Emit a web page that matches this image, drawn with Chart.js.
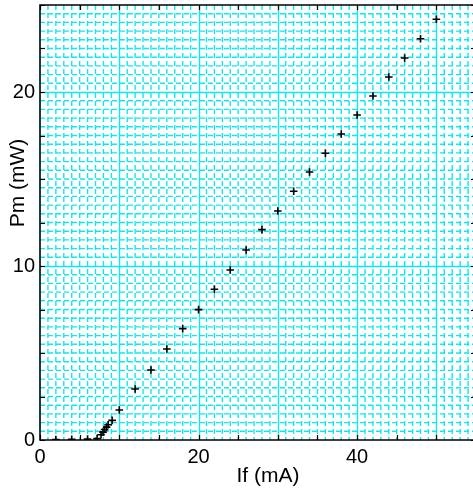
<!DOCTYPE html>
<html>
<head>
<meta charset="utf-8">
<script src="https://cdn.jsdelivr.net/npm/chart.js@4"></script>
<style>
  html, body { margin: 0; padding: 0; background: #fff; overflow: hidden; }
  #wrap { width: 476px; height: 492px; }
</style>
</head>
<body>
<div id="wrap"><canvas id="plot" width="476" height="492"></canvas></div>
<script>
// Pm vs If — measured points
const ifValues = [2, 4, 6, 7.2, 7.7, 7.95, 8.15, 8.4, 8.6, 9.1, 10, 12, 14, 16, 18, 20, 22, 24, 26, 28,
    30, 32, 34, 36, 38, 40, 42, 44, 46, 48, 50];
const pmValues = [0.03, 0.04, 0.05, 0.08, 0.3, 0.45, 0.6, 0.74, 0.88, 1.13, 1.72, 2.93, 4.02, 5.23, 6.40, 7.49, 8.66, 9.77, 10.92, 12.09,
    13.16, 14.3, 15.4, 16.48, 17.59, 18.68, 19.77, 20.86, 21.95, 23.06, 24.18];

const xTickLabels = [0, 20, 40];
const yTickLabels = [0, 10, 20];
const xTitle = 'If (mA)';
const yTitle = 'Pm (mW)';

const CYAN = '#10e8f0';
const FONT = "'Liberation Sans', Arial, sans-serif";

// graph-paper grid, frame, inward ticks and axis titles
const paperPlugin = {
    id: 'paper',
    beforeDatasetsDraw(chart) {
        const { ctx, chartArea: a, scales: { x, y } } = chart;
        ctx.save();
        ctx.beginPath();
        ctx.rect(a.left, a.top, a.right - a.left, a.bottom - a.top);
        ctx.clip();
        ctx.strokeStyle = CYAN;

        // minor dashed lines
        ctx.lineWidth = 1.4;
        ctx.setLineDash([5, 3]);
        for (let v = 1; v < x.max; v++) {
            if (v % 10 === 0) continue;
            const px = x.getPixelForValue(v);
            ctx.beginPath(); ctx.moveTo(px, a.top); ctx.lineTo(px, a.bottom); ctx.stroke();
        }
        for (let v = 0.5; v < y.max; v += 0.5) {
            if (v % 10 === 0) continue;
            const py = y.getPixelForValue(v);
            ctx.beginPath(); ctx.moveTo(a.left, py); ctx.lineTo(a.right, py); ctx.stroke();
        }

        // major solid lines
        ctx.setLineDash([]);
        ctx.lineWidth = 1.4;
        for (let v = 10; v < x.max; v += 10) {
            const px = Math.round(x.getPixelForValue(v)) + 0.5;
            ctx.beginPath(); ctx.moveTo(px, a.top); ctx.lineTo(px, a.bottom); ctx.stroke();
        }
        for (let v = 10; v < y.max; v += 10) {
            const py = Math.round(y.getPixelForValue(v)) + 0.5;
            ctx.beginPath(); ctx.moveTo(a.left, py); ctx.lineTo(a.right, py); ctx.stroke();
        }
        ctx.restore();
    },
    afterDatasetsDraw(chart) {
        const { ctx, chartArea: a, scales: { x, y } } = chart;
        ctx.save();
        ctx.strokeStyle = '#000';
        ctx.lineWidth = 1.5;
        ctx.strokeRect(a.left, a.top, a.right - a.left, a.bottom - a.top);
        ctx.strokeStyle = '#1a3a3a';
        ctx.beginPath(); ctx.moveTo(a.left, a.top); ctx.lineTo(a.left, a.bottom); ctx.stroke();

        // inward ticks
        ctx.strokeStyle = '#000';
        ctx.lineWidth = 1.2;
        const len = 5;
        for (let v = 0; v <= x.max; v += 5) {
            const px = Math.round(x.getPixelForValue(v)) + 0.5;
            ctx.beginPath();
            ctx.moveTo(px, a.bottom); ctx.lineTo(px, a.bottom - len);
            ctx.moveTo(px, a.top); ctx.lineTo(px, a.top + len);
            ctx.stroke();
        }
        for (let v = 0; v <= y.max; v += 2.5) {
            const py = Math.round(y.getPixelForValue(v)) + 0.5;
            ctx.beginPath();
            ctx.moveTo(a.left, py); ctx.lineTo(a.left + len, py);
            ctx.moveTo(a.right, py); ctx.lineTo(a.right - len, py);
            ctx.stroke();
        }

        // axis titles
        ctx.fillStyle = '#000';
        ctx.font = '21px ' + FONT;
        ctx.textAlign = 'center';
        ctx.textBaseline = 'alphabetic';
        ctx.fillText(xTitle, 268, 482);
        ctx.translate(24, 183);
        ctx.rotate(-Math.PI / 2);
        ctx.fillText(yTitle, 0, 0);
        ctx.restore();
    }
};

new Chart(document.getElementById('plot'), {
    type: 'scatter',
    data: {
        datasets: [{
            data: ifValues.map((v, i) => ({ x: v, y: pmValues[i] })),
            pointStyle: 'cross',
            pointRadius: 3.8,
            pointBorderWidth: 1.6,
            borderColor: '#000',
            backgroundColor: '#000',
        }],
    },
    options: {
        responsive: false,
        animation: false,
        layout: { autoPadding: false, padding: { top: 5, right: 0, left: 0, bottom: 0 } },
        plugins: { legend: { display: false }, tooltip: { enabled: false } },
        scales: {
            x: {
                type: 'linear',
                min: 0,
                max: 55,
                grid: { display: false, drawTicks: false },
                border: { display: false },
                afterBuildTicks: s => { s.ticks = xTickLabels.map(v => ({ value: v })); },
                afterFit: s => { s.height = 52; s.paddingLeft = 0; s.paddingRight = 0; },
                ticks: { color: '#000', padding: 5, maxRotation: 0, font: { family: FONT, size: 20 } },
            },
            y: {
                type: 'linear',
                min: 0,
                max: 25,
                grid: { display: false, drawTicks: false },
                border: { display: false },
                afterBuildTicks: s => { s.ticks = yTickLabels.map(v => ({ value: v })); },
                afterFit: s => { s.width = 40; s.paddingTop = 0; s.paddingBottom = 0; },
                ticks: { color: '#000', padding: 5, font: { family: FONT, size: 20 } },
            },
        },
    },
    plugins: [paperPlugin],
});
</script>
</body>
</html>
